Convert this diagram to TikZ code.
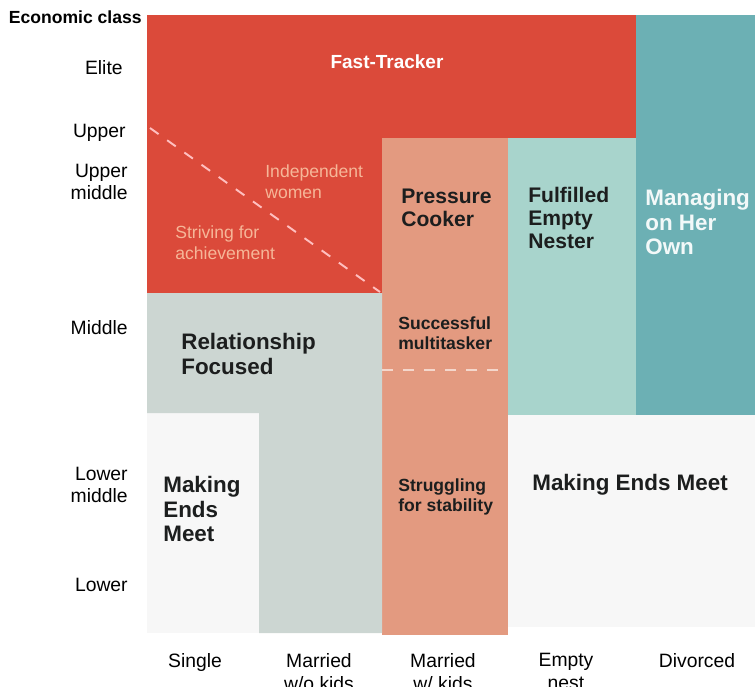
\documentclass[tikz,border=0pt]{standalone}
\usepackage{fontspec}
\setmainfont{Liberation Sans}
\definecolor{myred}{RGB}{219, 74, 58}
\definecolor{mysalmon}{RGB}{227, 154, 128}
\definecolor{mylteal}{RGB}{168, 212, 204}
\definecolor{mydteal}{RGB}{108, 176, 180}
\definecolor{mygray}{RGB}{204, 214, 210}
\definecolor{mywhite}{RGB}{247, 247, 247}
\definecolor{mypeach}{RGB}{246, 182, 152}
\definecolor{mydark}{RGB}{28, 30, 30}

\begin{document}
\begin{tikzpicture}[x=0.02cm, y=-0.02cm,
    axislab/.style={anchor=east, align=right, inner sep=0, font=\fontsize{11}{12.5}\selectfont},
    grouplab/.style={anchor=north, align=center, inner sep=0, font=\fontsize{11}{13}\selectfont},
    bigcat/.style={anchor=west, align=left, inner sep=0, text=mydark, font=\fontsize{12.75}{14.2}\selectfont\bfseries},
    midcat/.style={anchor=west, align=left, inner sep=0, text=mydark, font=\fontsize{12}{13}\selectfont\bfseries},
    subcat/.style={anchor=west, align=left, inner sep=0, text=mydark, font=\fontsize{10}{11.6}\selectfont\bfseries},
    lightcat/.style={anchor=west, align=left, inner sep=0, text=mypeach, font=\fontsize{10}{12}\selectfont},
    divider/.style={dash pattern=on 6 off 6, line width=1.1pt}]
    \useasboundingbox (0, 0) rectangle (755, 687);

    % 区域
    \fill[mywhite] (147, 413) rectangle (259, 633);
    \fill[mywhite] (508, 415) rectangle (755, 627);
    \fill[myred] (147, 15) -- (636, 15) -- (636, 138) -- (382, 138) -- (382, 293) -- (147, 293) -- cycle;
    \fill[mydteal] (636, 15) rectangle (755, 415);
    \fill[mylteal] (508, 138) rectangle (636, 415);
    \fill[mysalmon] (382, 138) rectangle (508, 635);
    \fill[mygray] (147, 293) -- (382, 293) -- (382, 633) -- (259, 633) -- (259, 413) -- (147, 413) -- cycle;

    \draw[divider, red!25!white] (150, 128) -- (380, 292);
    \draw[divider, mysalmon!40!white] (382, 370) -- (508, 370);

    % 纵轴
    \node[axislab, font=\fontsize{10}{12}\selectfont\bfseries] (econ) at (142, 17) {Economic class};
    \node[axislab] (elite) at (123, 68) {Elite};
    \node[axislab] (upper) at (126, 133) {Upper};
    \node[axislab] (uppermid) at (128, 182) {Upper\\middle};
    \node[axislab] (middle) at (128, 328) {Middle};
    \node[axislab] (lowermid) at (128, 485) {Lower\\middle};
    \node[axislab] (lower) at (128, 585) {Lower};

    % 横轴
    \node[grouplab] (single) at (195, 653) {Single};
    \node[grouplab] (marnokids) at (319, 653) {Married\\w/o kids};
    \node[grouplab] (markids) at (443, 653) {Married\\w/ kids};
    \node[grouplab] (emptynest) at (566, 653) {Empty\\nest};
    \node[grouplab] (divorced) at (697, 653) {Divorced};

    % 类别
    \node[anchor=center, inner sep=0, text=white, font=\fontsize{10.8}{12}\selectfont\bfseries] (fast) at (387, 62) {Fast-Tracker};
    \node[lightcat] (indep) at (265, 182) {Independent\\women};
    \node[lightcat] (striving) at (175, 243) {Striving for\\achievement};
    \node[midcat] (pressure) at (401, 208) {Pressure\\Cooker};
    \node[subcat] (multi) at (398, 333) {Successful\\multitasker};
    \node[subcat] (struggle) at (398, 497) {Struggling\\for stability};
    \node[midcat] (fulfilled) at (528, 218) {Fulfilled\\Empty\\Nester};
    \node[bigcat, text=white!92!mydteal] (managing) at (645, 222) {Managing\\on Her\\Own};
    \node[bigcat] (relation) at (181, 354) {Relationship\\Focused};
    \node[bigcat] (endsleft) at (163, 509) {Making\\Ends\\Meet};
    \node[bigcat] (endsright) at (532, 485) {Making Ends Meet};
\end{tikzpicture}
\end{document}
